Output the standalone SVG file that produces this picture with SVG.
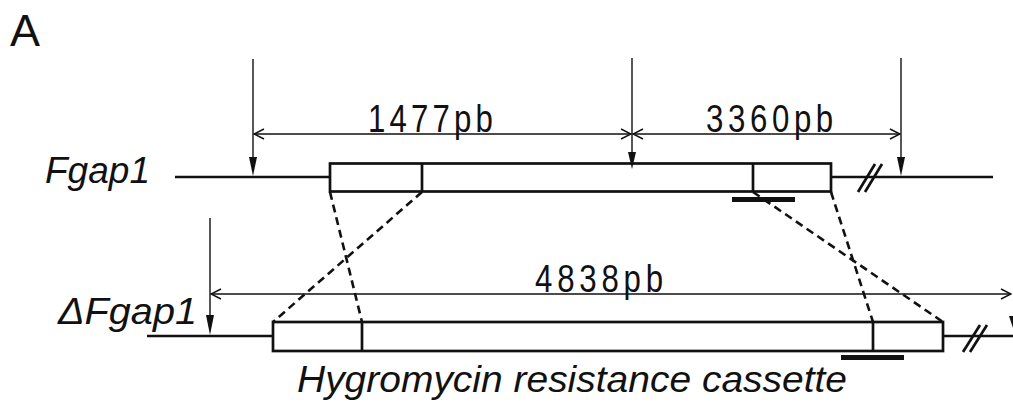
<svg xmlns="http://www.w3.org/2000/svg" width="1013" height="406" viewBox="0 0 1013 406">
<style>
.lab{font-family:"Liberation Sans",Arial,sans-serif;fill:#111}
.it{font-style:italic}
.bp{font-size:39px}
.dna{stroke:#111;stroke-width:2.7;fill:none}
.box{stroke:#111;stroke-width:2.7;fill:#fff}
.thin{stroke:#111;stroke-width:1.4;fill:none}
.dash{stroke:#111;stroke-width:2.6;fill:none;stroke-dasharray:8 5}
.bar{fill:#111}
</style>
<defs>
<marker id="open" markerWidth="12" markerHeight="12" refX="11" refY="6" orient="auto-start-reverse" markerUnits="userSpaceOnUse" viewBox="0 0 12 12">
<path d="M1,1 L11,6 L1,11" fill="none" stroke="#111" stroke-width="1.4"/>
</marker>
</defs>

<text class="lab" x="10" y="46" font-size="45">A</text>

<g id="fgap1">
<text class="lab it" x="45" y="183" font-size="36" textLength="105" lengthAdjust="spacingAndGlyphs">Fgap1</text>
<line class="dna" x1="175" y1="177" x2="330" y2="177"/>
<line class="dna" x1="831" y1="177" x2="993" y2="177"/>
<rect class="box" x="330" y="163.5" width="501" height="28"/>
<line class="dna" x1="422" y1="163.5" x2="422" y2="191.5"/>
<line class="dna" x1="753" y1="163.5" x2="753" y2="191.5"/>
<line class="dna" x1="858" y1="192" x2="875" y2="164"/>
<line class="dna" x1="865" y1="192" x2="882" y2="164"/>
<rect class="bar" x="732" y="197" width="63" height="5"/>
</g>

<g id="dfgap1">
<text class="lab it" x="58" y="324" font-size="37" textLength="139" lengthAdjust="spacingAndGlyphs">ΔFgap1</text>
<line class="dna" x1="147" y1="336" x2="273" y2="336"/>
<line class="dna" x1="943" y1="336" x2="1013" y2="336"/>
<rect class="box" x="273" y="322" width="670" height="29"/>
<line class="dna" x1="362" y1="322" x2="362" y2="351"/>
<line class="dna" x1="873" y1="322" x2="873" y2="351"/>
<line class="dna" x1="963" y1="352" x2="980" y2="325"/>
<line class="dna" x1="970" y1="352" x2="987" y2="325"/>
<rect class="bar" x="841" y="355" width="63" height="5"/>
<path d="M1009,316 L1013,316 L1013,328 Z" fill="#111"/>
<text class="lab it" x="297" y="392" font-size="36" textLength="550" lengthAdjust="spacingAndGlyphs">Hygromycin resistance cassette</text>
</g>

<g id="connectors">
<line class="thin" x1="253" y1="59" x2="253" y2="158"/>
<path d="M249,157 L257,157 L253,176 Z" fill="#111"/>
<line class="thin" x1="632" y1="58" x2="632" y2="153"/>
<path d="M628,152 L636,152 L632,169 Z" fill="#111"/>
<line class="thin" x1="901" y1="58" x2="901" y2="158"/>
<path d="M897,157 L905,157 L901,176 Z" fill="#111"/>
<line class="thin" x1="210" y1="218" x2="210" y2="316"/>
<path d="M206,315 L214,315 L210,335 Z" fill="#111"/>
<line class="thin" x1="254" y1="134" x2="631" y2="134" marker-start="url(#open)" marker-end="url(#open)"/>
<line class="thin" x1="633" y1="134" x2="900" y2="134" marker-start="url(#open)" marker-end="url(#open)"/>
<line class="thin" x1="211" y1="294" x2="1011" y2="294" marker-start="url(#open)" marker-end="url(#open)"/>
<line class="dash" x1="330" y1="192" x2="362" y2="322"/>
<line class="dash" x1="422" y1="192" x2="273" y2="322"/>
<line class="dash" x1="753" y1="192" x2="943" y2="322"/>
<line class="dash" x1="831" y1="192" x2="873" y2="322"/>
</g>

<g transform="translate(368 132) scale(0.8 1)"><text class="lab bp" x="0" y="0" textLength="156" lengthAdjust="spacing">1477pb</text></g>
<g transform="translate(706 132) scale(0.8 1)"><text class="lab bp" x="0" y="0" textLength="159" lengthAdjust="spacing">3360pb</text></g>
<g transform="translate(535 292) scale(0.8 1)"><text class="lab bp" x="0" y="0" textLength="160" lengthAdjust="spacing">4838pb</text></g>
</svg>
